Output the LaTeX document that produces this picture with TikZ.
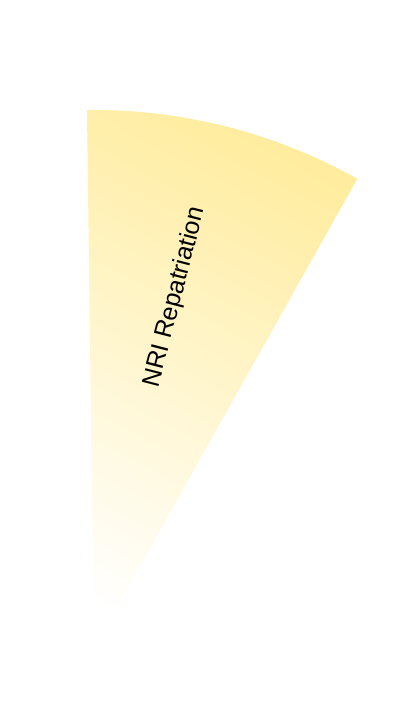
\documentclass[tikz,border=0pt]{standalone}
\usepackage{fontspec}
\setmainfont{Liberation Sans}
\definecolor{wedgeyellow}{HTML}{FFEC9C}
\tikzset{
  wedgeband/.style={draw=none},
  wedgelabel/.style={font=\fontsize{25}{28}\selectfont, text=black, rotate=75.5, inner sep=0pt}
}
\begin{document}
\begin{tikzpicture}[x=1pt,y=1pt]
\useasboundingbox (0,0) rectangle (406,712);
\coordinate (C) at (94,64);
\begin{scope}
\clip (C) -- ++(60.7:538) arc[start angle=60.7, end angle=90.75, radius=538] -- cycle;
\begin{scope}[shift={(C)}, rotate=-28]
\foreach \i in {0,...,135}{
  \pgfmathsetmacro{\ylo}{4*\i}
  \pgfmathsetmacro{\pct}{max(0,min(100,(\ylo+2-38)/5))}
  \fill[wedgeband, wedgeyellow!\pct!white] (-330,\ylo) rectangle (330,\ylo+4.6);
}
\end{scope}
\end{scope}
\node[wedgelabel] (lab) at (175,415) {NRI Repatriation};
\end{tikzpicture}
\end{document}
